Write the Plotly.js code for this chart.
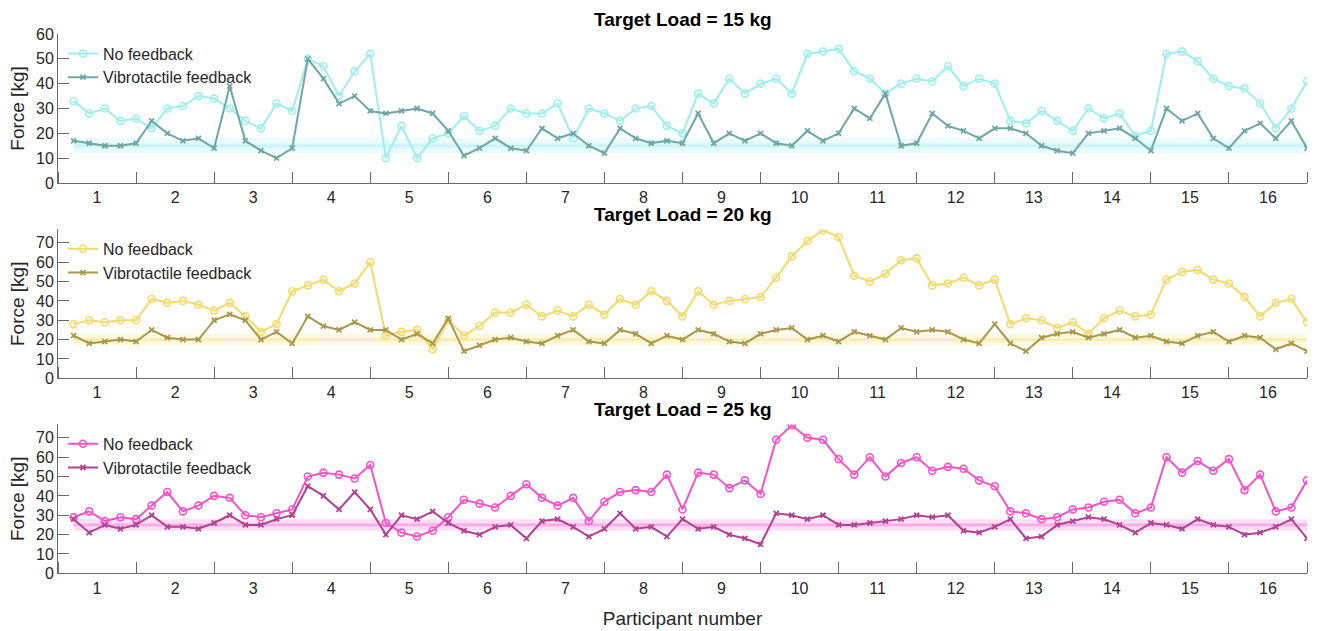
<!DOCTYPE html>
<html><head><meta charset="utf-8">
<script src="https://cdn.plot.ly/plotly-3.0.1.min.js"></script>
<style>html,body{margin:0;padding:0;background:#fff;}#chart{width:1317px;height:631px;}</style>
</head><body><div id="chart"></div>
<script>
// ---------- data ----------
const participants = ['1','2','3','4','5','6','7','8','9','10','11','12','13','14','15','16'];
const trialsPerParticipant = 5;
const targetLoads = [15, 20, 25];
const toleranceOuter = 3;
const toleranceInner = 1;
const seriesNames = ['No feedback', 'Vibrotactile feedback'];
const panelTitles = ['Target Load = 15 kg', 'Target Load = 20 kg', 'Target Load = 25 kg'];
const yTickVals15 = [0,10,20,30,40,50,60];
const yTickVals20 = [0,10,20,30,40,50,60,70];
const yTickVals25 = [0,10,20,30,40,50,60,70];

const noFeedback15 = [33,28,30,25,26, 22,30,31,35,34, 30,25,22,32,29, 50,47,35,45,52,
  10,23,10,18,20, 27,21,23,30,28, 28,32,18,30,28, 25,30,31,23,20,
  36,32,42,36,40, 42,36,52,53,54, 45,42,36,40,42, 41,47,39,42,40,
  25,24,29,25,21, 30,26,28,19,21, 52,53,49,42,39, 38,32,22,30,41];
const vibro15 = [17,16,15,15,16, 25,20,17,18,14, 39,17,13,10,14, 50,42,32,35,29,
  28,29,30,28,21, 11,14,18,14,13, 22,18,20,15,12, 22,18,16,17,16,
  28,16,20,17,20, 16,15,21,17,20, 30,26,36,15,16, 28,23,21,18,22,
  22,20,15,13,12, 20,21,22,18,13, 30,25,28,18,14, 21,24,18,25,14];
const noFeedback20 = [28,30,29,30,30, 41,39,40,38,35, 39,32,24,28,45, 48,51,45,49,60,
  22,24,25,15,30, 22,27,34,34,38, 32,35,32,38,33, 41,38,45,40,32,
  45,38,40,41,42, 52,63,71,76.5,73, 53,50,54,61,62, 48,49,52,48,51,
  28,31,30,26,29, 23,31,35,32,33, 51,55,56,51,49, 42,32,39,41,29];
const vibro20 = [22,18,19,20,19, 25,21,20,20,30, 33,30,20,24,18, 32,27,25,29,25,
  25,20,23,18,31, 14,17,20,21,19, 18,22,25,19,18, 25,23,18,22,20,
  25,23,19,18,23, 25,26,20,22,19, 24,22,20,26,24, 25,24,20,18,28,
  18,14,21,23,24, 21,23,25,21,22, 19,18,22,24,19, 22,21,15,18,14];
const noFeedback25 = [29,32,27,29,28, 35,42,32,35,40, 39,30,29,31,33, 50,52,51,49,56,
  26,21,19,22,29, 38,36,34,40,46, 39,35,39,27,37, 42,43,42,51,33,
  52,51,44,48,41, 69,76.5,70,69,59, 51,60,50,57,60, 53,55,54,48,45,
  32,31,28,29,33, 34,37,38,31,34, 60,52,58,53,59, 43,51,32,34,48];
const vibro25 = [28,21,25,23,25, 30,24,24,23,26, 30,25,25,28,30, 45,40,33,42,33,
  20,30,28,32,26, 22,20,24,25,18, 27,28,24,19,23, 31,23,24,19,28,
  23,24,20,18,15, 31,30,28,30,25, 25,26,27,28,30, 29,30,22,21,24,
  28,18,19,25,27, 29,28,25,21,26, 25,23,28,25,24, 20,21,24,28,18];

const colorsNoFb = ['#9eeeee', '#f3da6c', '#f453c8'];
const colorsVib  = ['#6fa6a6', '#a8984c', '#b04292'];
const bandRGB    = ['150,235,235', '245,220,100', '245,90,205'];

// ---------- build ----------
const panels = [
  {nf: noFeedback15, vb: vibro15, yt: yTickVals15, yr: [0, 60]},
  {nf: noFeedback20, vb: vibro20, yt: yTickVals20, yr: [0, 77]},
  {nf: noFeedback25, vb: vibro25, yt: yTickVals25, yr: [0, 77]}
];
const domains = [[0.7100, 0.9461], [0.4005, 0.6366], [0.0914, 0.3276]];
const FONT = 'Liberation Sans, Arial, sans-serif';
const TXT = '#262626';
const AX = '#6a6a6a';

const nTrials = noFeedback15.length;
const xIdx = [];
for (let i = 1; i <= nTrials; i++) xIdx.push(i);
const labelPos = participants.map((p, k) => k * trialsPerParticipant + trialsPerParticipant / 2);

const traces = [];
const shapes = [];
const annotations = [];
const layout = {
  width: 1317, height: 631,
  margin: {l: 58, r: 10, t: 0, b: 0},
  paper_bgcolor: '#fff', plot_bgcolor: '#fff',
  font: {family: FONT, color: TXT, size: 16},
  showlegend: true
};

panels.forEach((p, i) => {
  const sfx = i === 0 ? '' : String(i + 1);
  const xa = 'x' + sfx, ya = 'y' + sfx;
  const legName = 'legend' + sfx;
  traces.push({
    x: xIdx, y: p.nf, xaxis: xa, yaxis: ya, type: 'scatter', mode: 'lines+markers',
    name: seriesNames[0], legend: legName,
    line: {color: colorsNoFb[i], width: 2},
    marker: {symbol: 'circle-open', size: 7, color: colorsNoFb[i], line: {width: 1.6, color: colorsNoFb[i]}}
  });
  traces.push({
    x: xIdx, y: p.vb, xaxis: xa, yaxis: ya, type: 'scatter', mode: 'lines+markers',
    name: seriesNames[1], legend: legName,
    line: {color: colorsVib[i], width: 2},
    marker: {symbol: 'x-thin-open', size: 5, color: colorsVib[i], line: {width: 1.8, color: colorsVib[i]}}
  });
  const t = targetLoads[i];
  shapes.push({type: 'rect', xref: xa, yref: ya, x0: xIdx[0], x1: xIdx[nTrials - 1],
    y0: t - toleranceOuter, y1: t + toleranceOuter, fillcolor: 'rgba(' + bandRGB[i] + ',0.2)',
    line: {width: 0}, layer: 'below'});
  shapes.push({type: 'rect', xref: xa, yref: ya, x0: xIdx[0], x1: xIdx[nTrials - 1],
    y0: t - toleranceInner, y1: t + toleranceInner, fillcolor: 'rgba(' + bandRGB[i] + ',0.18)',
    line: {width: 0}, layer: 'below'});
  shapes.push({type: 'line', xref: xa, yref: ya, x0: xIdx[0], x1: xIdx[nTrials - 1],
    y0: t, y1: t, line: {color: 'rgba(' + bandRGB[i] + ',0.45)', width: 1}, layer: 'below'});

  layout['xaxis' + sfx] = {
    domain: [0, 1], anchor: ya, range: [0, nTrials],
    tickmode: 'array', tickvals: labelPos, ticktext: participants, ticks: '',
    showline: true, linecolor: AX, linewidth: 1, showgrid: false, zeroline: false,
    tickfont: {size: 16, color: TXT, family: FONT},
    minor: {tickmode: 'linear', tick0: 0, dtick: trialsPerParticipant, ticks: 'inside', ticklen: 11, tickcolor: AX, tickwidth: 1, showgrid: false},
    fixedrange: true
  };
  layout['yaxis' + sfx] = {
    domain: domains[i], anchor: xa, range: p.yr,
    tickmode: 'array', tickvals: p.yt, ticks: 'inside', ticklen: 11, tickcolor: AX,
    showline: true, linecolor: AX, linewidth: 1, showgrid: false, zeroline: false,
    tickfont: {size: 16, color: TXT, family: FONT},
    title: {text: 'Force [kg]', font: {size: 19, color: TXT, family: FONT}, standoff: 6},
    automargin: false, fixedrange: true
  };
  layout[legName] = {
    x: 0.004, y: domains[i][1] - 0.004, xanchor: 'left', yanchor: 'top',
    bgcolor: 'rgba(0,0,0,0)', borderwidth: 0, font: {size: 16, color: TXT, family: FONT},
    itemwidth: 30, tracegroupgap: 0
  };
  annotations.push({
    text: '<b>' + panelTitles[i] + '</b>', xref: 'paper', yref: 'paper', x: 0.5,
    y: domains[i][1], yanchor: 'bottom', xanchor: 'center', yshift: 2, showarrow: false,
    font: {size: 19, color: '#000', family: FONT}
  });
});
layout.xaxis3.title = {text: 'Participant number', font: {size: 19, color: TXT, family: FONT}, standoff: 16};
layout.shapes = shapes;
layout.annotations = annotations;

Plotly.newPlot('chart', traces, layout, {displayModeBar: false, staticPlot: true});
</script></body></html>
